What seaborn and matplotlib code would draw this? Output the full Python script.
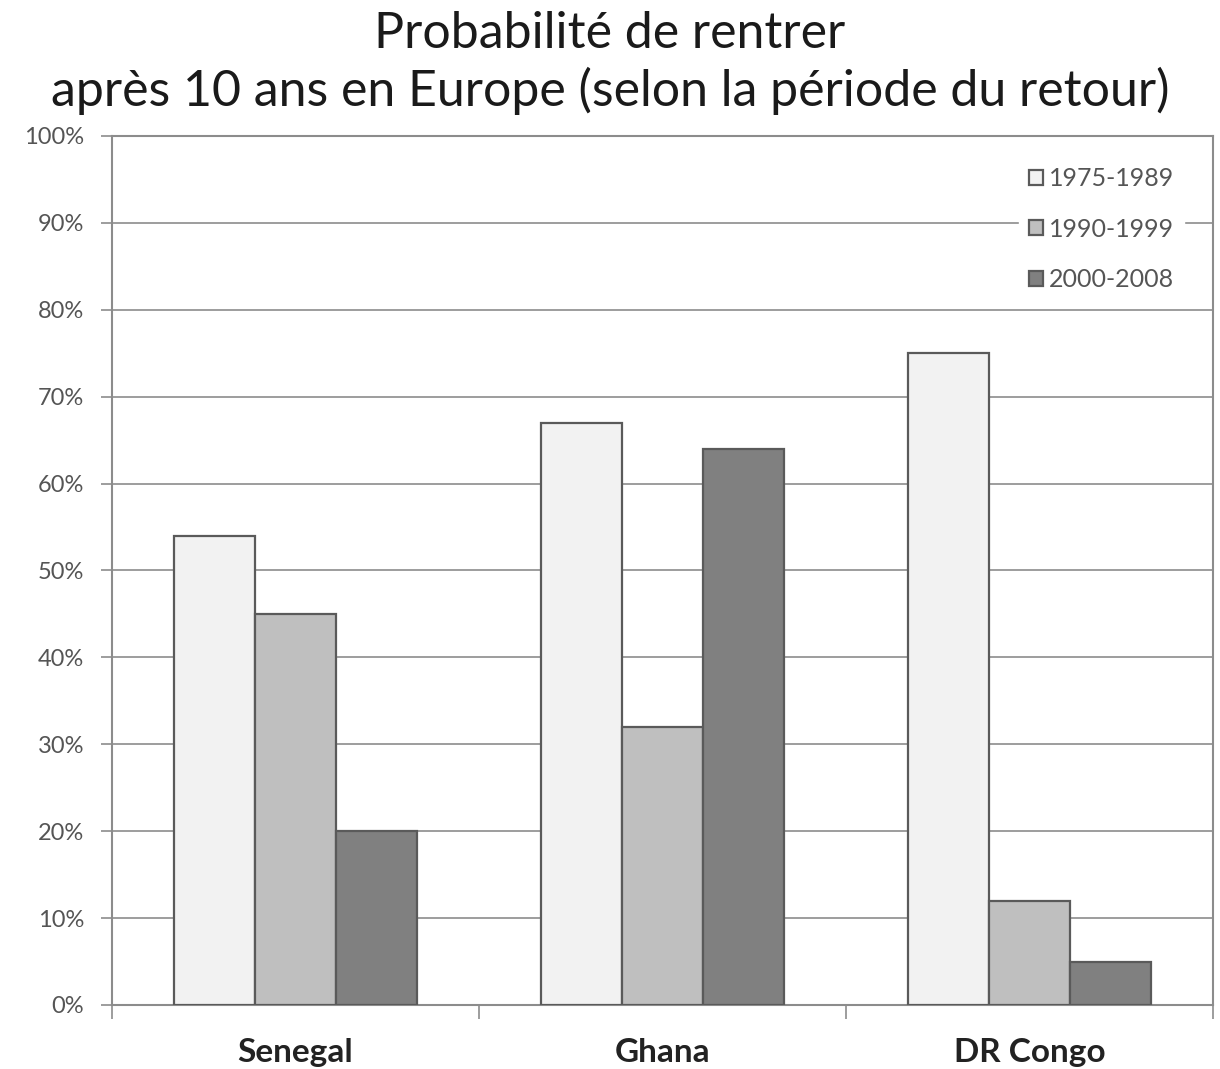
import matplotlib.pyplot as plt
import matplotlib.ticker as mticker
import seaborn as sns
import pandas as pd

countries = ["Senegal", "Ghana", "DR Congo"]
periods = ["1975-1989", "1990-1999", "2000-2008"]
share_1975_1989 = [54, 67, 75]
share_1990_1999 = [45, 32, 12]
share_2000_2008 = [20, 64, 5]
y_ticks = list(range(0, 101, 10))

rows = []
for period, values in zip(periods, [share_1975_1989, share_1990_1999, share_2000_2008]):
    for country, v in zip(countries, values):
        rows.append({"country": country, "period": period, "value": v})
df = pd.DataFrame(rows)

sns.set_style("white")
plt.rcParams["font.family"] = ["Lato", "DejaVu Sans"]

fig = plt.figure(figsize=(12.2, 10.69), dpi=100)
ax = fig.add_axes([0.0918, 0.0599, 0.9025, 0.8129])

sns.barplot(
    data=df,
    x="country",
    y="value",
    hue="period",
    order=countries,
    hue_order=periods,
    palette=["#f2f2f2", "#bfbfbf", "#808080"],
    edgecolor="#5a5a5a",
    linewidth=1.6,
    width=0.66,
    saturation=1,
    zorder=3,
    ax=ax,
)

ax.set_ylim(0, 100)
ax.set_xlim(-0.5, 2.5)
ax.set_yticks(y_ticks)
ax.yaxis.set_major_formatter(mticker.FuncFormatter(lambda v, _: f"{int(v)}%"))
ax.yaxis.grid(True, color="#8c8c8c", linewidth=1.2, zorder=0)
ax.set_axisbelow(True)
ax.set_xlabel("")
ax.set_ylabel("")

# y ticks: small outward marks, grey labels
ax.tick_params(axis="y", length=8, width=1.2, color="#8c8c8c", labelsize=17,
               labelcolor="#555555", pad=12, left=True)
# x ticks: labels centred, marks only at group boundaries
ax.tick_params(axis="x", which="major", length=0, pad=24)
ax.set_xticks([-0.5, 0.5, 1.5, 2.5], minor=True)
ax.tick_params(axis="x", which="minor", length=10, width=1.2, color="#8c8c8c", bottom=True)
for lbl in ax.get_xticklabels():
    lbl.set_fontweight("bold")
    lbl.set_fontsize(24)
    lbl.set_color("#222222")

for s in ax.spines.values():
    s.set_visible(True)
    s.set_color("#8c8c8c")
    s.set_linewidth(1.5)

leg = ax.legend(
    loc="upper right",
    bbox_to_anchor=(0.985, 0.99),
    frameon=True,
    framealpha=1,
    edgecolor="white",
    facecolor="white",
    fontsize=18,
    handlelength=0.55,
    handleheight=0.55,
    handletextpad=0.25,
    labelspacing=1.1,
    borderpad=0.4,
)
for t in leg.get_texts():
    t.set_color("#555555")

fig.text(0.5, 0.99, "Probabilité de rentrer\naprès 10 ans en Europe (selon la période du retour)",
         ha="center", va="top", fontsize=36, color="#1a1a1a", linespacing=1.25)

fig.savefig("out.png", dpi=100, facecolor="white")
